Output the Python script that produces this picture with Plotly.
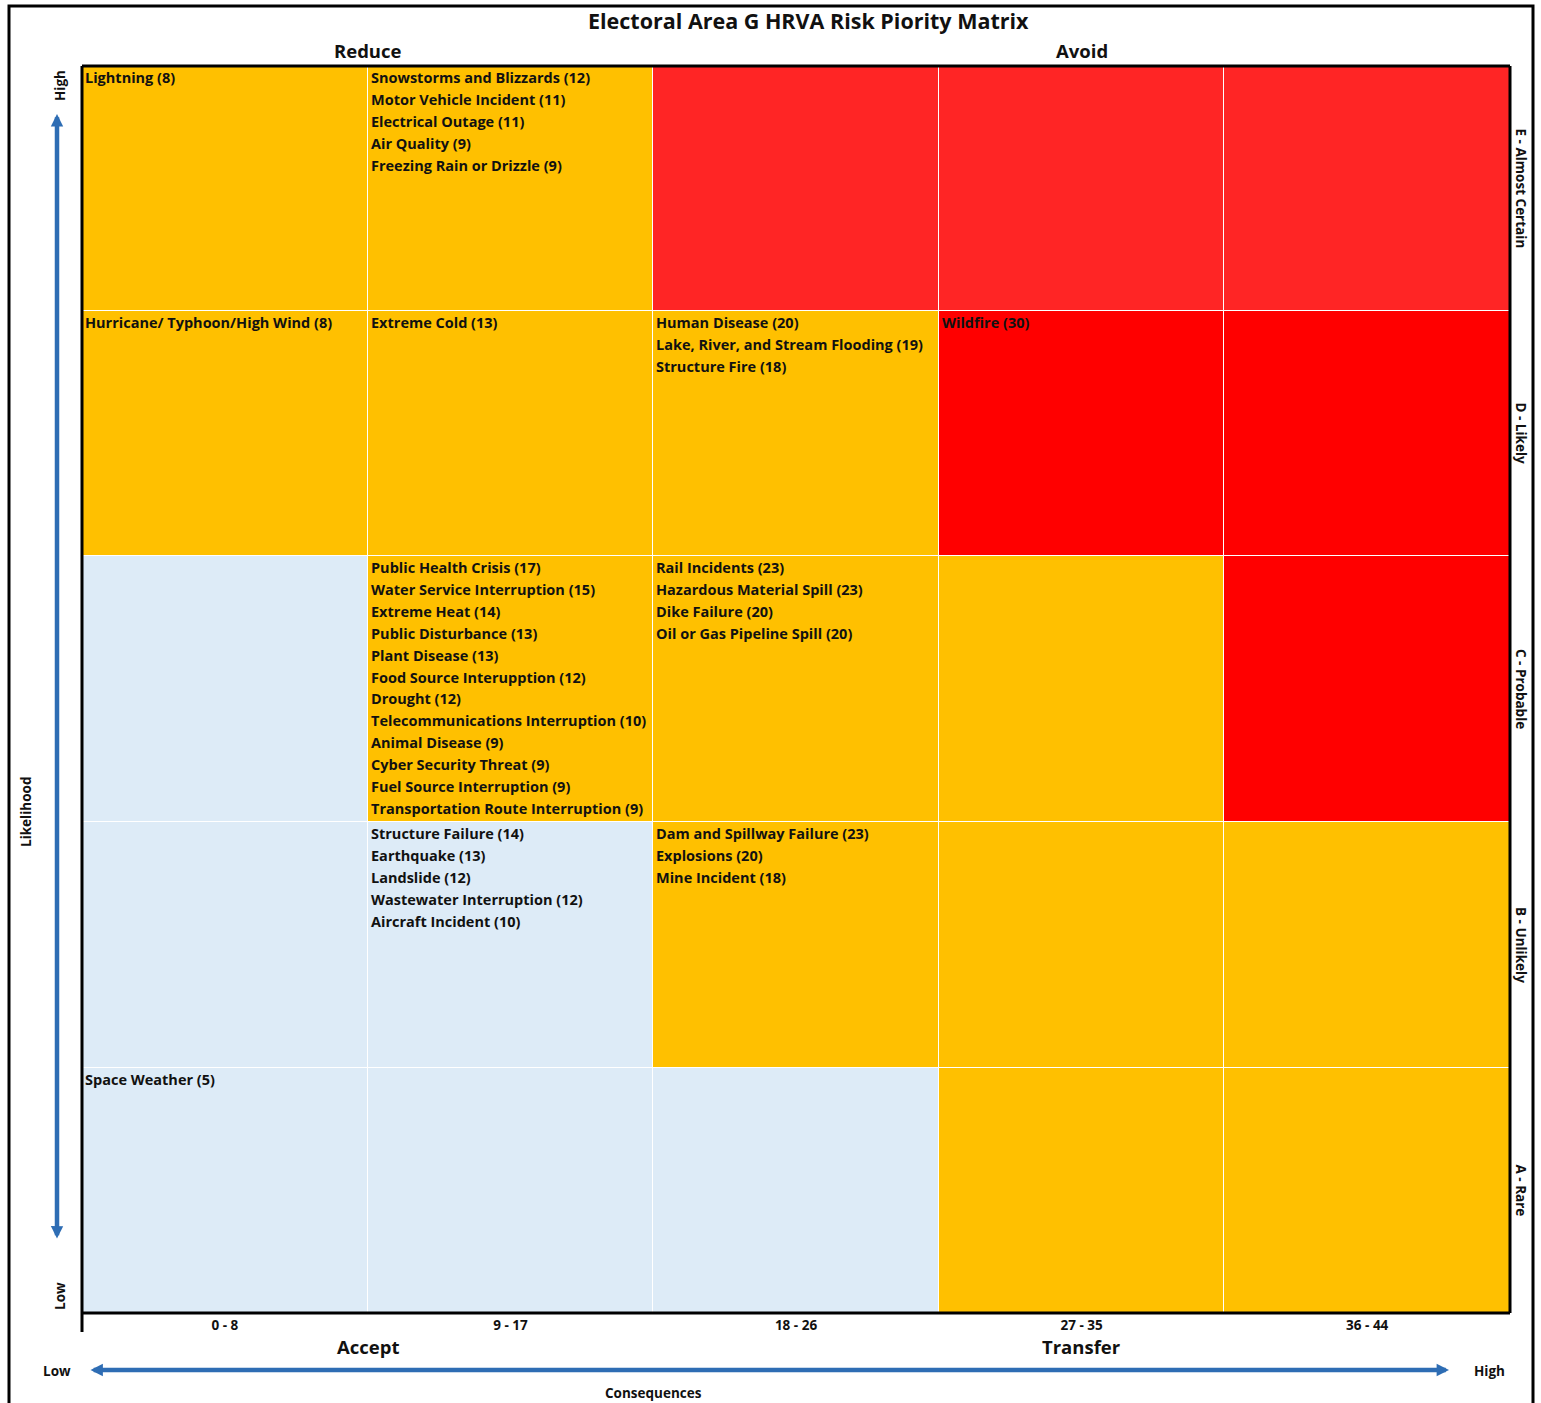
import plotly.graph_objects as go

# ---------------- data ----------------
consequence_labels = ["0 - 8", "9 - 17", "18 - 26", "27 - 35", "36 - 44"]
likelihood_labels = ["A - Rare", "B - Unlikely", "C - Probable", "D - Likely", "E - Almost Certain"]
row_heights = [245, 246, 266, 245, 245]  # A..E relative heights of rows

# risk level code per cell (rows A..E, cols 0..4): 0=accept(blue),1=orange,2=red(top),3=red
risk_codes = [
    [0, 0, 0, 1, 1],   # A
    [0, 0, 1, 1, 1],   # B
    [0, 1, 1, 1, 3],   # C
    [1, 1, 1, 3, 3],   # D
    [1, 1, 2, 2, 2],   # E
]

hazards = {
    ("E", 0): ["Lightning (8)"],
    ("E", 1): ["Snowstorms and Blizzards (12)", "Motor Vehicle Incident (11)", "Electrical Outage (11)",
               "Air Quality (9)", "Freezing Rain or Drizzle (9)"],
    ("D", 0): ["Hurricane/ Typhoon/High Wind (8)"],
    ("D", 1): ["Extreme Cold (13)"],
    ("D", 2): ["Human Disease (20)", "Lake, River, and Stream Flooding (19)", "Structure Fire (18)"],
    ("D", 3): ["Wildfire (30)"],
    ("C", 1): ["Public Health Crisis (17)", "Water Service Interruption (15)", "Extreme Heat (14)",
               "Public Disturbance (13)", "Plant Disease (13)", "Food Source Interupption (12)",
               "Drought (12)", "Telecommunications Interruption (10)", "Animal Disease (9)",
               "Cyber Security Threat (9)", "Fuel Source Interruption (9)",
               "Transportation Route Interruption (9)"],
    ("C", 2): ["Rail Incidents (23)", "Hazardous Material Spill (23)", "Dike Failure (20)",
               "Oil or Gas Pipeline Spill (20)"],
    ("B", 1): ["Structure Failure (14)", "Earthquake (13)", "Landslide (12)",
               "Wastewater Interruption (12)", "Aircraft Incident (10)"],
    ("B", 2): ["Dam and Spillway Failure (23)", "Explosions (20)", "Mine Incident (18)"],
    ("A", 0): ["Space Weather (5)"],
}
row_keys = ["A", "B", "C", "D", "E"]

title_text = "Electoral Area G HRVA Risk Piority Matrix"
top_labels = ["Reduce", "Avoid"]
bottom_labels = ["Accept", "Transfer"]

# ---------------- layout constants ----------------
W, H = 1541, 1403
L, R, T, B = 82, 1510, 66, 1313
FONT = "Open Sans"
BLUE = "#DDEBF7"
ORANGE = "#FFC000"
RED1 = "#FF2525"
RED2 = "#FF0000"
ARROW = "#2E6DB4"
TXT = "#111111"

y_edges = [0]
for h in row_heights:
    y_edges.append(y_edges[-1] + h)
x_edges = list(range(len(consequence_labels) + 1))

def px_x(p):
    return (p - L) / (R - L)

def px_y(p):
    return (B - p) / (B - T)

colorscale = [[0, BLUE], [0.25, BLUE], [0.25, ORANGE], [0.5, ORANGE],
              [0.5, RED1], [0.75, RED1], [0.75, RED2], [1, RED2]]

fig = go.Figure(go.Heatmap(
    z=risk_codes, x=x_edges, y=y_edges, colorscale=colorscale,
    zmin=-0.5, zmax=3.5, showscale=False, xgap=1, ygap=1, hoverinfo="skip",
))

def f(size):
    return dict(family=FONT, size=size, color=TXT, weight="bold")

annotations = []
LINE = 21.9
for (rk, ci), items in hazards.items():
    ri = row_keys.index(rk)
    for i, t in enumerate(items):
        annotations.append(dict(
            x=x_edges[ci], y=y_edges[ri + 1], xref="x", yref="y",
            text=t, showarrow=False, xanchor="left", yanchor="top",
            xshift=1, yshift=-LINE * i,
            font=f(14.5),
        ))

# right side row labels
for ri, lab_ in enumerate(likelihood_labels):
    annotations.append(dict(
        x=px_x(1521), y=(y_edges[ri] + y_edges[ri + 1]) / 2, xref="paper", yref="y",
        text=lab_, showarrow=False, textangle=90, xanchor="center", yanchor="middle",
        font=f(13.5),
    ))

def lab(x, y, text, size, angle=0, xref="paper"):
    return dict(x=x, y=y, xref=xref, yref="paper", text=text, showarrow=False,
                textangle=angle, xanchor="center", yanchor="middle", font=f(size))

# title and quadrant labels
annotations.append(lab(px_x(808), px_y(21), title_text, 21.5))
for t, xx in zip(top_labels, [1, 3.5]):
    annotations.append(lab(xx, px_y(51), t, 18.5, xref="x"))
for t, xx in zip(bottom_labels, [1, 3.5]):
    annotations.append(lab(xx, px_y(1346), t, 18.5, xref="x"))

annotations += [
    lab(px_x(60), px_y(86), "High", 13.5, -90),
    lab(px_x(60), px_y(1296), "Low", 13.5, -90),
    lab(px_x(26), px_y(812), "Likelihood", 13.5, -90),
    lab(px_x(57), px_y(1371), "Low", 13.5),
    lab(px_x(1489), px_y(1371), "High", 13.5),
    lab(px_x(653), px_y(1393), "Consequences", 13.5),
]

# double-headed arrows (offsets in pixels)
annotations.append(dict(x=px_x(57), y=px_y(114), xref="paper", yref="paper",
                        ax=0, ay=1240 - 114, axref="pixel", ayref="pixel",
                        text="", showarrow=True, arrowhead=2, arrowside="end+start",
                        arrowsize=0.55, arrowwidth=4.5, arrowcolor=ARROW))
annotations.append(dict(x=px_x(1449), y=px_y(1370), xref="paper", yref="paper",
                        ax=89 - 1449, ay=0, axref="pixel", ayref="pixel",
                        text="", showarrow=True, arrowhead=2, arrowside="end+start",
                        arrowsize=0.55, arrowwidth=4.5, arrowcolor=ARROW))

shapes = [
    # outer frame
    dict(type="rect", xref="paper", yref="paper", x0=px_x(9), x1=px_x(1533), y0=px_y(1420), y1=px_y(6),
         line=dict(color="black", width=3), fillcolor="rgba(0,0,0,0)", layer="above"),
    # plot borders
    dict(type="line", xref="paper", yref="paper", x0=0, x1=1, y0=1, y1=1, line=dict(color="black", width=3)),
    dict(type="line", xref="paper", yref="paper", x0=1, x1=1, y0=0, y1=1, line=dict(color="black", width=3)),
    dict(type="line", xref="paper", yref="paper", x0=0, x1=1, y0=0, y1=0, line=dict(color="black", width=3)),
    dict(type="line", xref="paper", yref="paper", x0=0, x1=0, y0=px_y(1332), y1=1, line=dict(color="black", width=3)),
]

fig.update_layout(
    width=W, height=H,
    margin=dict(l=L, r=W - R, t=T, b=H - B),
    plot_bgcolor="white", paper_bgcolor="white",
    showlegend=False,
    xaxis=dict(range=[0, 5], tickvals=[i + 0.5 for i in range(5)], ticktext=consequence_labels,
               showgrid=False, zeroline=False, ticks="", ticklen=0, ticklabelstandoff=2,
               tickfont=f(13.5)),
    yaxis=dict(range=[0, y_edges[-1]], showticklabels=False, showgrid=False, zeroline=False, ticks=""),
    annotations=annotations,
    shapes=shapes,
)

fig.write_html("out.html", config={"displayModeBar": False},
               post_script="document.body.style.margin='0';document.body.style.overflow='hidden';")
